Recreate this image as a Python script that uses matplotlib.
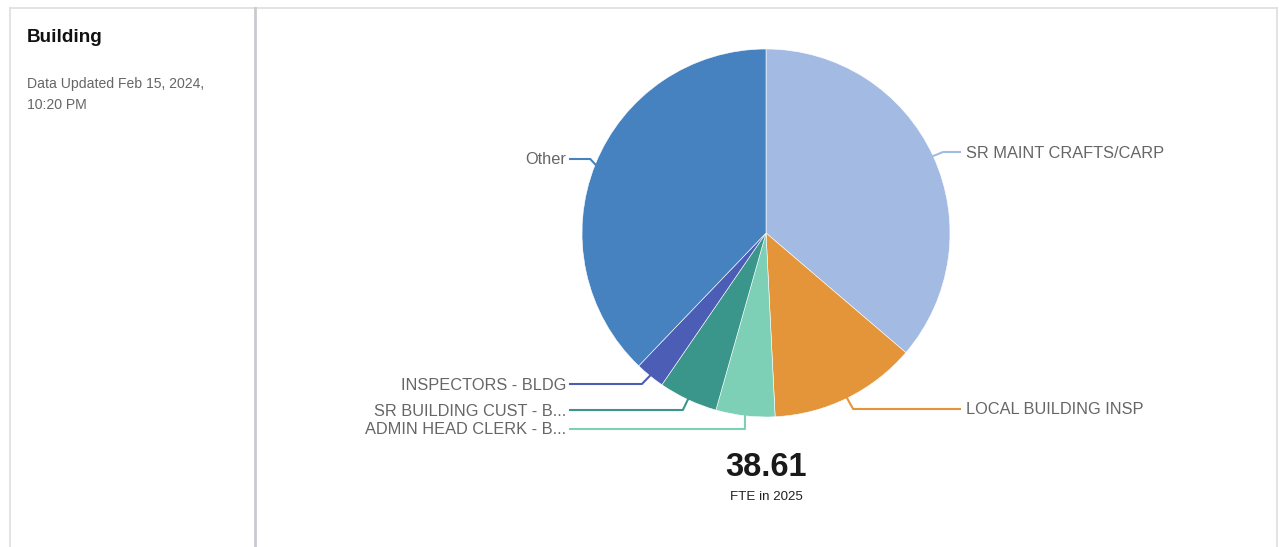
import numpy as np
import matplotlib.pyplot as plt
from matplotlib.lines import Line2D

# FTE by job class (clockwise from 12 o'clock)
labels = ["SR MAINT CRAFTS/CARP", "LOCAL BUILDING INSP", "ADMIN HEAD CLERK - B...",
          "SR BUILDING CUST - B...", "INSPECTORS - BLDG", "Other"]
fte = [14.0, 5.0, 2.0, 2.0, 1.0, 14.61]
colors = ["#a3bbe3", "#e4953a", "#7dcfb6", "#3a968b", "#4b5db5", "#4682c0"]
total_label = "38.61"
subtitle = "FTE in 2025"

W, H = 1279, 547
plt.rcParams['font.family'] = ['Liberation Sans', 'DejaVu Sans']

fig = plt.figure(figsize=(W / 100, H / 100), dpi=100)
ax = fig.add_axes([0, 0, 1, 1])

def py(y):
    # pixel row -> axes y
    return H - y

# pie
cx, cy, r = 766, py(233), 184
wedges, _ = ax.pie(fte, colors=colors, startangle=90, counterclock=False,
                   center=(cx, cy), radius=r, frame=True,
                   wedgeprops=dict(edgecolor='white', linewidth=0.4))
ax.set_xlim(0, W)
ax.set_ylim(0, H)
ax.set_aspect('equal')
ax.axis('off')

# panel borders
border = "#dedede"
ax.add_line(Line2D([10, 1277], [py(8), py(8)], color=border, lw=1.2))
ax.add_line(Line2D([10, 10], [py(8), 0], color=border, lw=1.2))
ax.add_line(Line2D([1277, 1277], [py(8), 0], color=border, lw=1.2))
ax.add_line(Line2D([255, 255], [py(8), 0], color="#c8ccd0", lw=2))

# left header
ax.text(27, py(38), "Building", fontsize=13.6, fontweight='bold', color="#111111", va='center')
ax.text(27, py(84), "Data Updated Feb 15, 2024,", fontsize=10.1, color="#666666", va='center')
ax.text(27, py(105), "10:20 PM", fontsize=10.1, color="#666666", va='center')

# label layout: label row, side, elbow x shift
label_rows = [152, 409, 429, 410, 384, 159]
sides = [1, 1, -1, -1, -1, -1]
elbow_dx = [10, 6, 0, -5, -8, -5]
label_x_right = 960
label_x_left = 570

for w, lab, row, side, edx, col in zip(wedges, labels, label_rows, sides, elbow_dx, colors):
    mid = np.deg2rad((w.theta1 + w.theta2) / 2)
    px, pyy = cx + r * np.cos(mid), cy + r * np.sin(mid)
    ex, ey = px + edx, py(row)
    endx = label_x_right if side > 0 else label_x_left
    ax.add_line(Line2D([px, ex, endx], [pyy, ey, ey], color=col, lw=1.5))
    if side > 0:
        ax.text(endx + 6, ey - 1, lab, fontsize=11.8, color="#666666", va='center', ha='left')
    else:
        ax.text(endx - 4, ey - 1, lab, fontsize=11.8, color="#666666", va='center', ha='right')

# total
ax.text(766, py(468), total_label, fontsize=23.5, fontweight='bold', color="#1a1a1a",
        ha='center', va='center')
ax.text(766, py(497), subtitle, fontsize=9.6, color="#222222", ha='center', va='center')

fig.savefig("out.png", dpi=100, facecolor='white')
